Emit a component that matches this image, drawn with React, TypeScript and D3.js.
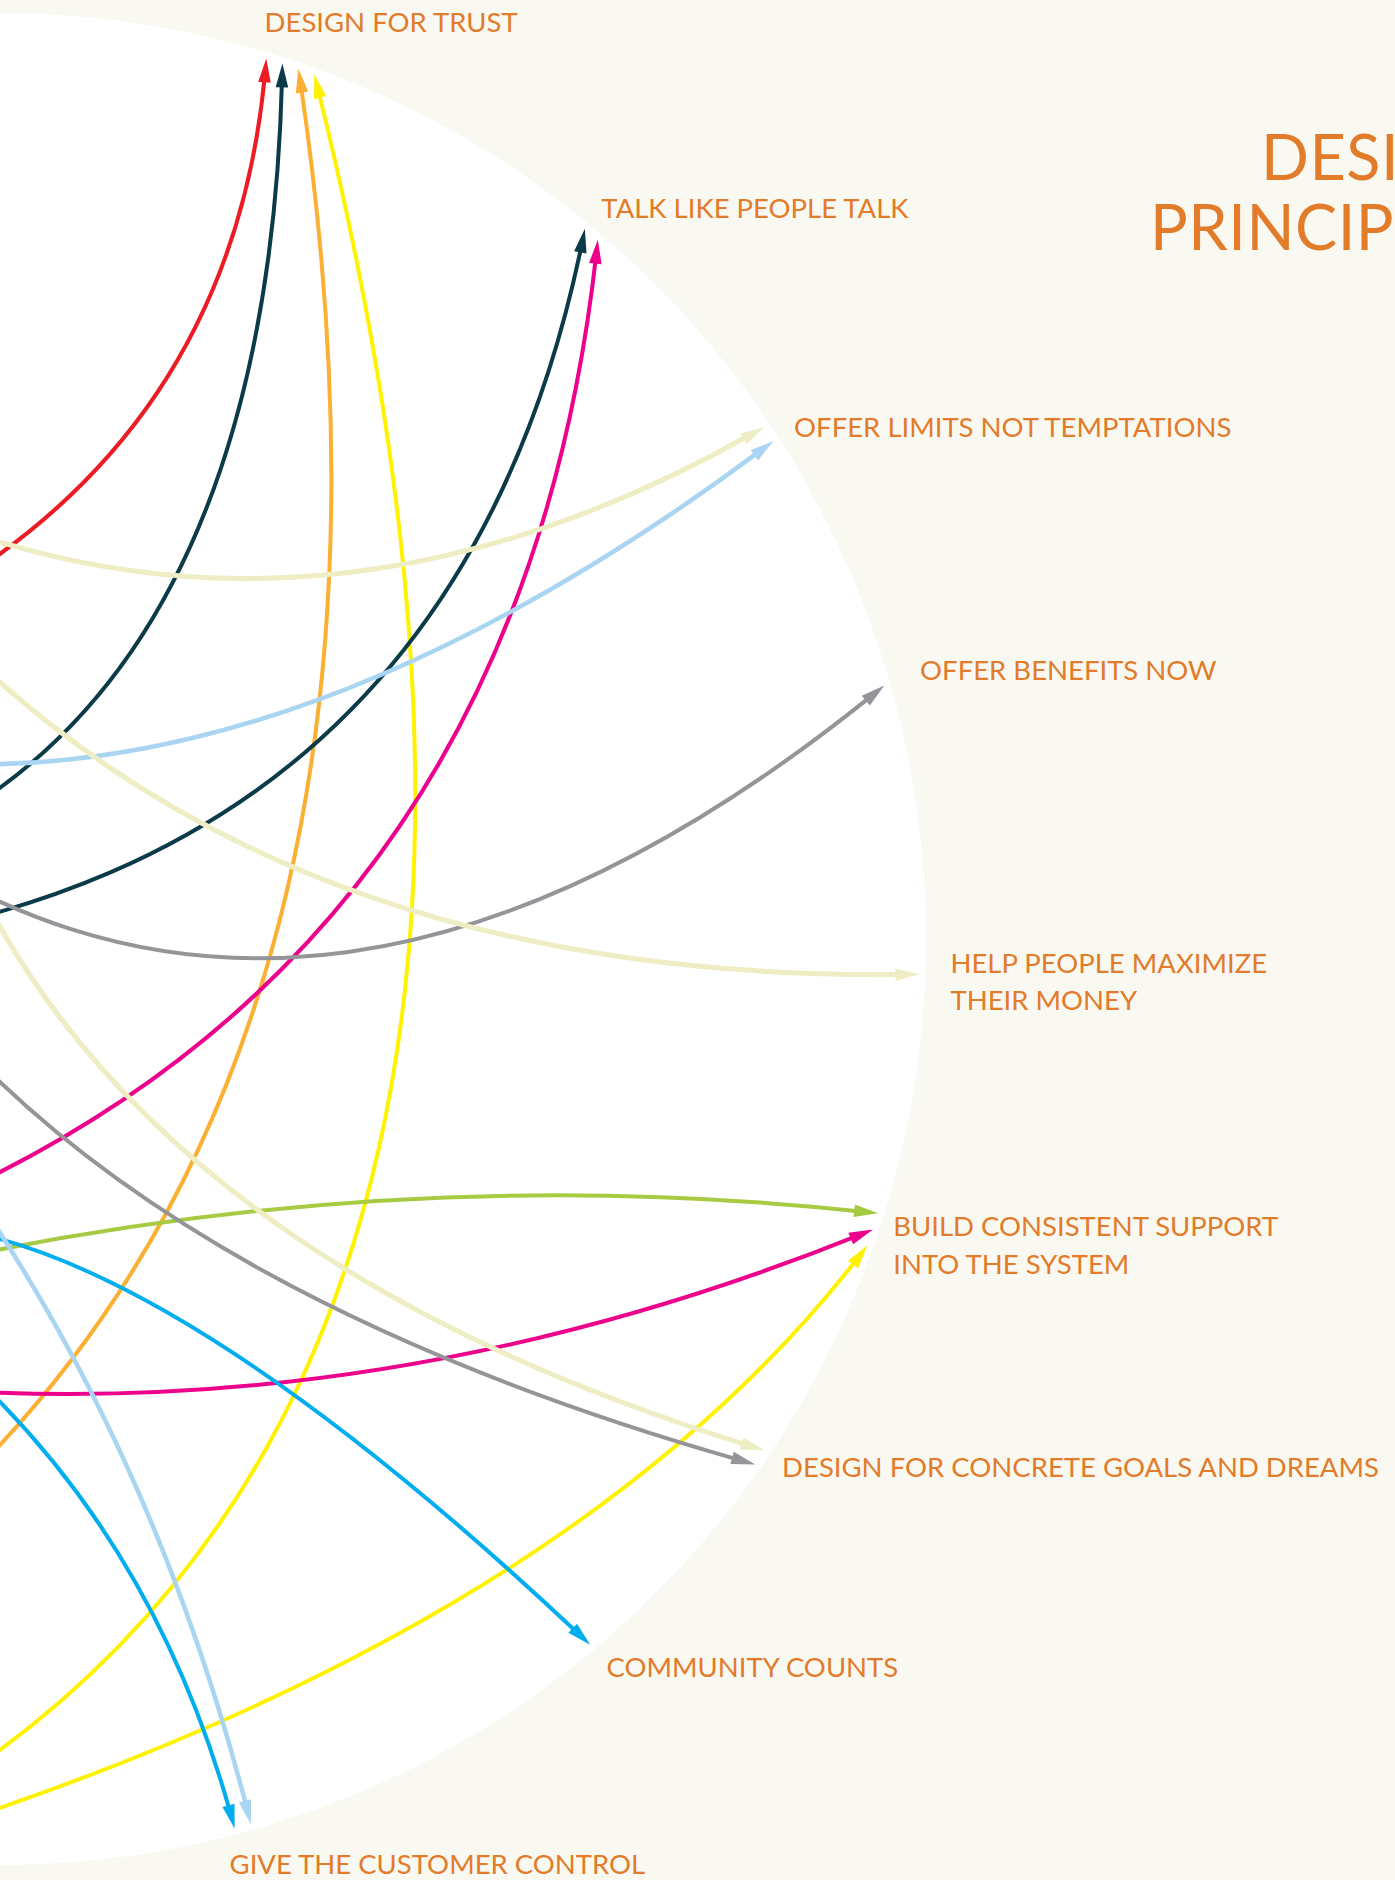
import React, { useEffect, useRef } from "react";
import * as d3 from "d3";

const width = 1395;
const height = 1880;

// the design principles sit on the right half of the wheel (angles in degrees, clockwise from 3 o'clock)
const principles = [
  ["DESIGN FOR TRUST"],
  ["TALK LIKE PEOPLE TALK"],
  ["OFFER LIMITS NOT TEMPTATIONS"],
  ["OFFER BENEFITS NOW"],
  ["HELP PEOPLE MAXIMIZE", "THEIR MONEY"],
  ["BUILD CONSISTENT SUPPORT", "INTO THE SYSTEM"],
  ["DESIGN FOR CONCRETE GOALS AND DREAMS"],
  ["COMMUNITY COUNTS"],
  ["GIVE THE CUSTOMER CONTROL"],
];
const principleAngles = [-71.6, -50.0, -33.3, -16.0, 2.2, 18.4, 34.3, 50.1, 74.7];

// arrows: where each one leaves the (hidden) left half, which principle it feeds,
// its colour group, and the bend handle (angle, share of radius)
const linkFrom = [190.7, 186.5, 118.3, 99.7, 183.0, 153.0, 234.1, 217.1, 230.2, 246.7, 143.4, 166.1, 98.1, 267.2, 258.7, 115.9, 206.1, 173.1];
const linkTo = [0, 0, 0, 0, 1, 1, 2, 2, 3, 4, 5, 5, 5, 6, 6, 7, 8, 8];
const linkGroup = ["red", "navy", "orange", "yellow", "navy", "magenta", "cream", "sky", "grey", "cream", "green", "magenta", "yellow", "cream", "grey", "blue", "sky", "blue"];
const bendAngle = [-39.3, 40.6, 38.9, 36.85, 31.1, 36.9, -55.3, 124.8, 89.1, 142.3, 68.9, 90.7, 50.7, 154.8, 163.9, 208.3, -20.0, 75.4];
const bendRadius = [0.299, 0.375, 0.685, 0.89, 0.507, 0.664, 0.157, 0.233, 0.505, 0.096, 0.214, 0.708, 0.981, 0.438, 0.625, 0.441, 0.03, 0.204];

const groups = ["red", "navy", "orange", "yellow", "magenta", "cream", "sky", "grey", "green", "blue"];
const groupColors = ["#ed1c24", "#0b3a48", "#fbb034", "#fff200", "#ec008c", "#efedc4", "#a9d5f2", "#939598", "#a6ca42", "#00adee"];

// where each label's first baseline starts (angle, distance from the hub)
const labelAngles = [-73.74, -50.18, -32.3, -15.75, 2.04, 18.42, 34.5, 50.57, 76.2];
const labelRadii = [945, 939, 939.5, 956, 951, 941.5, 949, 955, 962.5];

const App = () => {
  const svgRef = useRef<SVGSVGElement>(null);

  useEffect(() => {
    document.body.style.margin = "0";
    const svg = d3.select(svgRef.current);
    svg.selectAll("*").remove();

    const cx = 0;
    const cy = 939;
    const wheelR = 926;
    const tipR = 920;
    const orange = "#e27b2a";
    const font = "Lato, 'Noto Sans', sans-serif";

    const rad = d3.scaleLinear().domain([0, 180]).range([0, Math.PI]);
    const polar = (deg: number, r: number): [number, number] => [
      cx + r * Math.cos(rad(deg)),
      cy + r * Math.sin(rad(deg)),
    ];
    const color = d3.scaleOrdinal<string, string>().domain(groups).range(groupColors);

    svg.append("rect").attr("width", width).attr("height", height).attr("fill", "#f9f9f1");
    svg.append("circle").attr("cx", cx).attr("cy", cy).attr("r", wheelR).attr("fill", "#ffffff");

    // spread the arrow tips of one principle a little apart
    const counts = principles.map((_, i) => linkTo.filter((t) => t === i).length);
    const seen = principles.map(() => 0);
    const slot = 1.05;

    const links = linkFrom.map((from, i) => {
      const to = linkTo[i];
      const k = seen[to]++;
      const tipDeg = principleAngles[to] + (k - (counts[to] - 1) / 2) * slot;
      return {
        s: polar(from, tipR),
        t: polar(tipDeg, tipR),
        c: polar(bendAngle[i], bendRadius[i] * tipR),
        group: linkGroup[i],
      };
    });

    const arrowLen = 24;
    const arrowHalf = 6.3;
    const g = svg.append("g");

    links.forEach((d) => {
      const { s, t, c } = d;
      const col = color(d.group);
      const bez = (u: number): [number, number] => [
        (1 - u) * (1 - u) * s[0] + 2 * u * (1 - u) * c[0] + u * u * t[0],
        (1 - u) * (1 - u) * s[1] + 2 * u * (1 - u) * c[1] + u * u * t[1],
      ];
      // stop the line under the arrowhead
      const speed = 2 * Math.hypot(t[0] - c[0], t[1] - c[1]);
      const u = 1 - 15 / speed;
      const c1: [number, number] = [s[0] + (c[0] - s[0]) * u, s[1] + (c[1] - s[1]) * u];
      const e = bez(u);
      const p = d3.path();
      p.moveTo(s[0], s[1]);
      p.quadraticCurveTo(c1[0], c1[1], e[0], e[1]);

      const sw = d.group === "cream" ? 5 : d.group === "sky" ? 4.5 : 4;
      g.append("path")
        .attr("d", p.toString())
        .attr("fill", "none")
        .attr("stroke", col)
        .attr("stroke-width", sw);

      const len = Math.hypot(t[0] - c[0], t[1] - c[1]);
      const dx = (t[0] - c[0]) / len;
      const dy = (t[1] - c[1]) / len;
      const bx = t[0] - dx * arrowLen;
      const by = t[1] - dy * arrowLen;
      g.append("polygon")
        .attr(
          "points",
          [
            [t[0], t[1]],
            [bx - dy * arrowHalf, by + dx * arrowHalf],
            [bx + dy * arrowHalf, by - dx * arrowHalf],
          ]
            .map((q) => q.join(","))
            .join(" ")
        )
        .attr("fill", col);
    });

    principles.forEach((lines, i) => {
      const [x, y] = polar(labelAngles[i], labelRadii[i]);
      const text = svg
        .append("text")
        .attr("x", x)
        .attr("y", y)
        .attr("fill", orange)
        .attr("font-family", font)
        .attr("font-size", 27.5);
      lines.forEach((line, j) => {
        text.append("tspan").attr("x", x).attr("dy", j ? 37.5 : 0).text(line);
      });
    });

    const title = svg
      .append("text")
      .attr("fill", orange)
      .attr("font-family", font)
      .attr("font-size", 63)
      .attr("letter-spacing", 0.5);
    title.append("tspan").attr("x", 1261).attr("y", 180).text("DESIGN");
    title.append("tspan").attr("x", 1150).attr("y", 250).text("PRINCIPLES");
  }, []);

  return <svg ref={svgRef} width={width} height={height} style={{ display: "block" }}></svg>;
};

export default App;
